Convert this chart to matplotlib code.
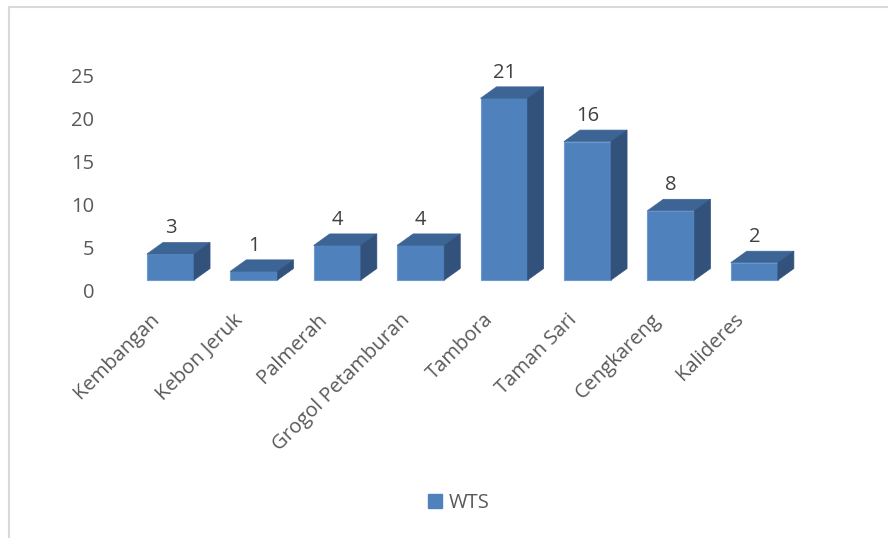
import numpy as np
import matplotlib.pyplot as plt
from matplotlib.patches import Polygon, Patch
from matplotlib.lines import Line2D
from matplotlib.transforms import ScaledTranslation

plt.rcParams['font.family'] = ['Open Sans', 'DejaVu Sans']

# WTS count per kecamatan
kecamatan = ["Kembangan", "Kebon Jeruk", "Palmerah", "Grogol Petamburan",
             "Tambora", "Taman Sari", "Cengkareng", "Kalideres"]
wts = [3, 1, 4, 4, 21, 16, 8, 2]
yticks = [0, 5, 10, 15, 20, 25]

front_c = "#4F81BD"
top_c = "#3C6595"
side_c = "#32527C"
edge_c = "#6C9BD2"
txt_c = "#595959"
lbl_c = "#404040"

fig = plt.figure(figsize=(8.88, 5.38), dpi=100)
ax = fig.add_axes([0.145, 0.4554, 0.7514, 0.4422])
ax.set_xlim(-0.5, 7.5)
ax.set_ylim(-1.5, 26)

w = 0.565       # front face width
ddx = 0.192     # depth offset (x)
ddy = 1.33      # depth offset (y)

x = np.arange(len(kecamatan))
ax.bar(x, wts, width=w, color=front_c, edgecolor=edge_c, linewidth=0.8, zorder=2)
for xi, v in zip(x, wts):
    l, r = xi - w / 2, xi + w / 2
    top = Polygon([(l, v), (r, v), (r + ddx, v + ddy), (l + ddx, v + ddy)],
                  closed=True, facecolor=top_c, edgecolor=top_c, linewidth=0.5, zorder=2)
    side = Polygon([(r, 0), (r + ddx, ddy), (r + ddx, v + ddy), (r, v)],
                   closed=True, facecolor=side_c, edgecolor=side_c, linewidth=0.5, zorder=2)
    ax.add_patch(top)
    ax.add_patch(side)
    ax.annotate(str(v), (xi, v + ddy), xytext=(0, 3), textcoords="offset points",
                ha="center", va="bottom", fontsize=14.5, color=lbl_c)

# value axis labels sit on the back wall
ytick_pos = [(8.56 * t - 10) / 8.65 for t in yticks]
ax.set_yticks(ytick_pos)
ax.set_yticklabels([str(t) for t in yticks])
ax.tick_params(axis="y", length=0, pad=25, labelsize=14.5, labelcolor=txt_c)

ax.set_xticks(x)
ax.set_xticklabels(kecamatan, rotation=45, ha="right")
ax.tick_params(axis="x", length=0, pad=12, labelsize=14.5, labelcolor=txt_c)
shift = ScaledTranslation(-4.7 / 72, 0, fig.dpi_scale_trans)
for lab in ax.get_xticklabels():
    lab.set_transform(lab.get_transform() + shift)

for s in ax.spines.values():
    s.set_visible(False)

fig.legend(handles=[Patch(facecolor=front_c, edgecolor=front_c, label="WTS")],
           loc="center", bbox_to_anchor=(459 / 888, 1 - 503 / 538), frameon=False,
           handlelength=0.65, handleheight=0.65, handletextpad=0.35,
           prop={"size": 14.5}, labelcolor=txt_c)

# chart area border (left and top)
fig.add_artist(Line2D([9 / 888, 9 / 888], [0, 1 - 7 / 538], color="#D9D9D9", lw=1.5))
fig.add_artist(Line2D([9 / 888, 1], [1 - 7 / 538, 1 - 7 / 538], color="#D9D9D9", lw=1.5))

fig.savefig("out.png", dpi=100)
